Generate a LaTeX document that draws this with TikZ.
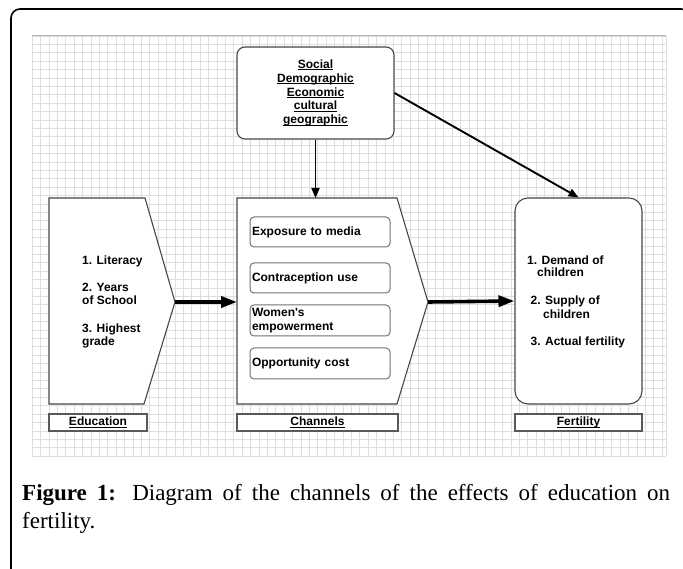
\documentclass[tikz,border=0pt]{standalone}
\usepackage{fontspec}
\newfontfamily\arialf{Liberation Sans}
\newfontfamily\timesf{Liberation Serif}
\usetikzlibrary{arrows.meta}
\newcommand\myul[1]{\setbox0\hbox{#1}\rlap{\rule[-1.8pt]{\wd0}{0.85pt}}\box0}
\begin{document}
\begin{tikzpicture}[x=1pt,y=-1pt,
  lbl/.style={font=\arialf\bfseries\fontsize{12pt}{13.8pt}\selectfont, inner sep=0pt},
  item/.style={lbl, anchor=base west},
  shapeline/.style={draw=black!72, line width=1.1pt},
  gridline/.style={draw=black!13, line width=0.6pt},
  chanbox/.style={lbl, draw=black!55, line width=1pt, rounded corners=4pt, fill=white,
     minimum width=140pt, minimum height=30pt, text width=136pt, inner xsep=2pt, align=left},
  labelbox/.style={lbl, draw=black!65, line width=1.2pt, fill=white, minimum height=17pt},
  thinarrow/.style={draw=black, line width=1.9pt, -{Triangle[length=10pt,width=8pt]}},
  thickarrow/.style={draw=black, line width=3.6pt, -{Triangle[length=16pt,width=11pt]}},
  captxt/.style={font=\timesf\fontsize{23pt}{28pt}\selectfont, inner sep=0pt, anchor=base west}
]
\useasboundingbox (0,0) rectangle (683,569);
\fill[white] (0,0) rectangle (683,569);
% outer frame
\draw[line width=1.6pt, rounded corners=9pt] (11,9) rectangle (690,660);
% grid
\foreach \i in {0,...,75} \draw[gridline] ({32+8.4*\i},36) -- ({32+8.4*\i},456);
\draw[gridline] (666,36) -- (666,456);
\foreach \j in {0,...,50} \draw[gridline] (32,{36+8.4*\j}) -- (666,{36+8.4*\j});
\draw[draw=black!30, line width=1pt] (32,36) -- (666,36);

% top box
\node[lbl, shapeline, rounded corners=8pt, fill=white, minimum width=157pt, minimum height=92pt, align=center]
  (social) at (315.5,93) {\myul{Social}\\\myul{Demographic}\\\myul{Economic}\\\myul{cultural}\\\myul{geographic}};

% education shape
\draw[shapeline, fill=white] (49,198) -- (145,198) -- (175,302) -- (144,404) -- (49,404) -- cycle;
\coordinate (eduTip) at (175,302);
\node[item] (e1) at (82,265) {1. Literacy};
\node[item] (e2) at (82,292) {2. Years};
\node[item] (e3) at (82,305) {of School};
\node[item] (e4) at (82,332.5) {3. Highest};
\node[item] (e5) at (82,346) {grade};

% channels shape
\draw[shapeline, fill=white] (237,198) -- (397,198) -- (428,302) -- (397,404) -- (237,404) -- cycle;
\coordinate (chanW) at (237,302);
\coordinate (chanTip) at (428,302);
\coordinate (chanN) at (315.5,198);
\node[chanbox] (c1) at (320,232) {Exposure to media};
\node[chanbox] (c2) at (320,278) {Contraception use};
\node[chanbox, minimum height=31pt] (c3) at (320,320.5) {Women\textquotesingle s\\empowerment};
\node[chanbox, minimum height=31pt] (c4) at (320,363.5) {Opportunity cost};

% fertility box
\node[shapeline, rounded corners=13pt, fill=white, minimum width=127pt, minimum height=206pt] (fert) at (578.5,301) {};
\node[item] (f1) at (527,264.5) {1. Demand of};
\node[item] (f2) at (537,277) {children};
\node[item] (f3) at (530.5,305) {2. Supply of};
\node[item] (f4) at (543,318.5) {children};
\node[item] (f5) at (530.5,346) {3. Actual fertility};

% labels
\node[labelbox, minimum width=98pt] (edulbl) at (98,422.5) {\myul{Education}};
\node[labelbox, minimum width=161pt] (chanlbl) at (317.5,422.5) {\myul{Channels}};
\node[labelbox, minimum width=127pt] (fertlbl) at (578.5,422.5) {\myul{Fertility}};

% arrows
\draw[thinarrow] (social.south) -- (chanN);
\draw[thinarrow] (social.east) -- (fert.north);
\draw[thickarrow] (eduTip) -- (chanW);
\draw[thickarrow] (chanTip) -- (fert.west);

% caption
\node[captxt] (cap1) at (22,500) {\makebox[648pt][s]{\textbf{Figure 1:} Diagram of the channels of the effects of education on}};
\node[captxt] (cap2) at (22,528) {fertility.};
\end{tikzpicture}
\end{document}
